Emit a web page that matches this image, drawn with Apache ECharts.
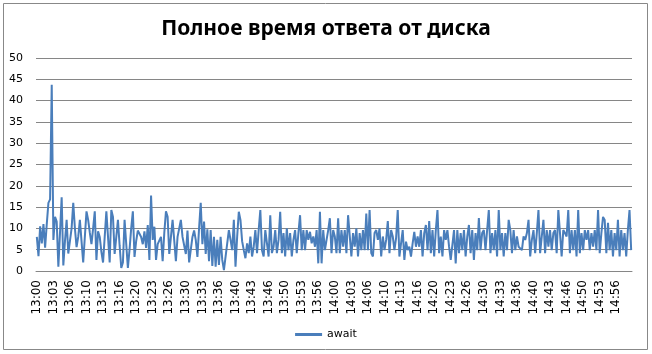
<!DOCTYPE html>
<html>
<head>
<meta charset="utf-8">
<script src="https://cdn.jsdelivr.net/npm/echarts@6/dist/echarts.min.js"></script>
<style>
  html, body { margin: 0; padding: 0; background: #fff; }
  #chart { width: 652px; height: 354px; }
</style>
</head>
<body>
<div id="chart"></div>
<script>
// замеры await, шаг 20 секунд, начиная с 13:00:00
const startHour = 13
const stepSeconds = 20
const awaitValues = [
  8, 3.5, 10.5, 6.5, 11, 5.5, 11, 16, 16.8, 43.7,
  7.3, 12.7, 11.6, 1, 9, 17.3, 1.3, 7, 12, 4.1,
  4.1, 10, 16, 10, 5.6, 8, 12, 7, 2, 8,
  14, 12, 9, 6.3, 10, 14, 2.6, 9.3, 8, 4.5,
  2, 8, 14, 8, 2, 14.3, 12.7, 4, 8, 12,
  6, 0.7, 2, 12, 12, 0.7, 5, 10, 14, 3.3,
  7, 9.5, 9.5, 8, 6.3, 9.3, 5.4, 10.8, 2.6, 17.7,
  7.3, 10.4, 2.6, 6.3, 6.3, 8, 2.3, 9, 14, 12.7,
  4, 8, 12, 12, 2.3, 8, 10, 12, 8, 6,
  4, 9.5, 2, 5, 8, 9.5, 7.3, 3.3, 10, 16,
  6.3, 11.6, 4, 9.8, 2.3, 9.6, 1.2, 8, 1, 7.3,
  1.4, 8, 2.6, 0.2, 0.3, 6.5, 9.6, 7.3, 4.9, 12,
  1, 8,
  13.9, 12, 7, 4.9, 3.0, 6.5, 4.2, 8.1, 3.4, 5.7,
  9.6, 4.2, 9.6, 14.3, 4.9, 3.4, 9.6, 6.5, 3.4, 13.1,
  4.2, 5.7, 9.6, 4.2, 7.3, 13.9, 4.2, 8.9, 3.4, 10.0,
  4.9, 8.9, 3.4, 7.3, 9.6, 4.2, 8.9, 13.1, 4.9, 9.6,
  4.9, 9.6, 7.3, 9.2, 6.5, 8.1, 5.7, 9.6, 1.8, 13.9,
  1.8, 9.6, 4.9, 7.3, 9.6, 12.4, 4.2, 9.6, 8.1, 4.2,
  12.4, 4.2, 9.6, 5.7, 9.6, 4.2, 13.1,
  13.1, 3.4, 8.9, 5.7, 10.0, 3.4, 8.9, 4.9, 9.6, 4.9,
  13.5, 4.9, 14.3, 4.2, 3.4, 8.9, 9.6, 7.3, 10.0, 3.4,
  8.1, 4.9, 7.3, 11.7, 4.2, 9.6, 8.1, 4.9, 7.7, 14.3,
  3.4, 6.5, 9.6, 2.6, 6.9, 4.9, 5.7, 3.4, 6.5, 9.2,
  5.7, 8.1, 5.7, 9.6, 3.4, 8.9, 10.8, 4.9, 11.7, 4.2,
  9.6, 3.4, 9.6, 14.3, 4.2, 8.1, 3.4, 9.6, 7.3, 9.6,
  5.7, 2.6,
  2.6, 9.6, 1.8, 9.6, 4.2, 8.9, 4.9, 9.6, 3.4, 8.1,
  10.8, 4.2, 9.6, 2.6, 8.9, 4.9, 12.4, 4.9, 8.9, 9.6,
  4.9, 9.6, 14.3, 4.2, 8.9, 4.9, 9.6, 3.4, 14.3, 4.9,
  8.9, 3.4, 8.9, 4.9, 12, 9.6, 4.2, 9.6, 4.9, 8.1,
  5.7, 5.7, 4.9, 8.1, 7.3, 8.9, 12, 3.4, 7.3, 9.6,
  4.2, 8.9, 14.3, 4.2, 8.1, 12, 4.2, 9.6, 5.7,
  9.6, 4.9, 8.9, 9.6, 4.2, 14.3, 8.9, 3.4, 9.6, 8.9,
  8.1, 14.3, 4.2, 9.6, 4.9, 9.6, 3.4, 14.3, 4.2, 8.9,
  4.9, 9.6, 7.3, 9.6, 4.9, 8.9, 5.7, 9.6, 4.9, 14.3,
  4.2, 8.9, 12.7, 12, 4.2, 11.3, 4.9, 9.6, 3.4, 8.9,
  4.9, 12, 3.4, 9.6, 4.9, 8.9, 3.4, 9.6, 14.3, 4.9
]

// подписи категорий: ЧЧ:ММ
const categories = awaitValues.map((_, i) => {
  const sec = i * stepSeconds
  const h = startHour + Math.floor(sec / 3600)
  const m = Math.floor((sec % 3600) / 60)
  return h + ':' + String(m).padStart(2, '0')
})

const chart = echarts.init(document.getElementById('chart'))

chart.setOption({
  animation: false,
  title: {
    text: 'Полное время ответа от диска',
    left: 'center',
    top: 14,
    textStyle: { fontFamily: 'Noto Sans', fontWeight: 'bold', fontSize: 21, color: '#000' }
  },
  legend: {
    data: ['await'],
    left: 'center',
    top: 324,
    icon: 'rect',
    itemWidth: 27,
    itemHeight: 3,
    itemGap: 4,
    textStyle: { fontFamily: 'DejaVu Sans', fontSize: 11, color: '#000' }
  },
  grid: { left: 36, right: 20, top: 58, bottom: 83 },
  xAxis: {
    type: 'category',
    data: categories,
    boundaryGap: true,
    axisLine: { lineStyle: { color: '#868686', width: 1 } },
    axisTick: { show: false },
    axisLabel: {
      interval: 9,
      rotate: 90,
      margin: 9,
      fontFamily: 'DejaVu Sans',
      fontSize: 12,
      color: '#000'
    }
  },
  yAxis: {
    type: 'value',
    min: 0,
    max: 50,
    interval: 5,
    axisLine: { show: false },
    axisTick: { show: false },
    splitLine: { lineStyle: { color: '#868686', width: 1 } },
    axisLabel: { margin: 13, fontFamily: 'DejaVu Sans', fontSize: 11, color: '#000' }
  },
  series: [{
    name: 'await',
    type: 'line',
    data: awaitValues,
    symbol: 'none',
    lineStyle: { color: '#4A7EBB', width: 2 },
    itemStyle: { color: '#4A7EBB' }
  }],
  graphic: [{
    type: 'rect',
    shape: { x: 3.5, y: 3.5, width: 644, height: 346 },
    style: { fill: 'none', stroke: '#888', lineWidth: 1 }
  }]
})
</script>
</body>
</html>
